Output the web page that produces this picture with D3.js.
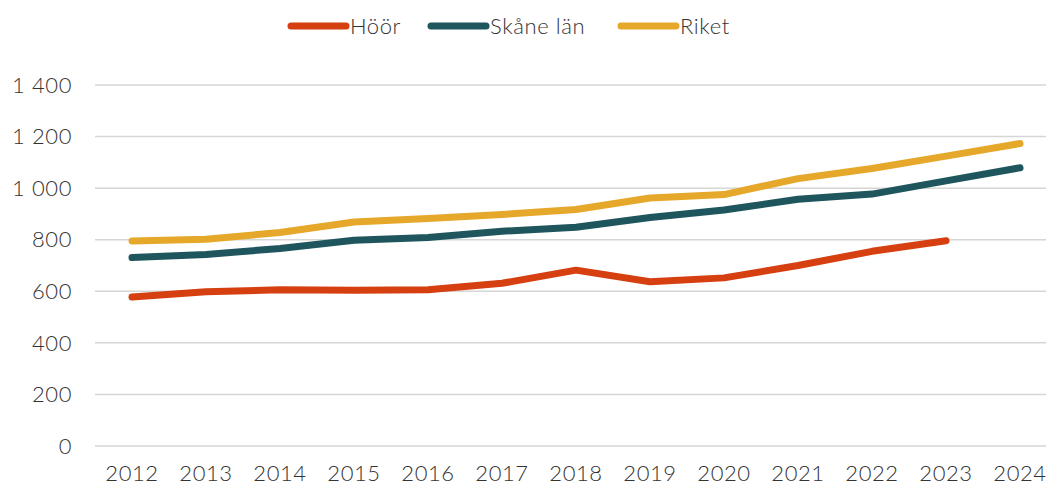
<!DOCTYPE html>
<html>
<head>
<meta charset="utf-8">
<script src="https://cdn.jsdelivr.net/npm/d3@7"></script>
<style>
  body { margin: 0; background: #fff; }
  text { font-family: "Lato", "Open Sans", sans-serif; font-weight: 300; fill: #333; letter-spacing: 0.6px; }
</style>
</head>
<body>
<div id="main"></div>
<script>
const WIDTH = 1046;
const HEIGHT = 486;

// data
const years = [2012, 2013, 2014, 2015, 2016, 2017, 2018, 2019, 2020, 2021, 2022, 2023, 2024];
const hoor = [578, 598, 606, 604, 606, 631, 682, 637, 652, 700, 755, 796, null];
const skane = [731, 743, 766, 798, 809, 833, 848, 886, 915, 957, 977, 1028, 1079];
const riket = [795, 802, 828, 869, 882, 898, 917, 962, 975, 1037, 1076, 1124, 1173];
const yTicks = [0, 200, 400, 600, 800, 1000, 1200, 1400];

const series = [
  { name: 'Höör', values: hoor, color: '#D63F0F' },
  { name: 'Skåne län', values: skane, color: '#1F565E' },
  { name: 'Riket', values: riket, color: '#E5A82A' }
];

const svg = d3.select('#main')
  .append('svg')
  .attr('width', WIDTH)
  .attr('height', HEIGHT);

const x = d3.scalePoint().domain(years).range([132, 1020]);
const y = d3.scaleLinear().domain([0, 1400]).range([446, 85]);

// grid
svg.append('g')
  .selectAll('line')
  .data(yTicks)
  .join('line')
  .attr('x1', 95)
  .attr('x2', WIDTH)
  .attr('y1', d => y(d))
  .attr('y2', d => y(d))
  .attr('stroke', '#d6d6d6')
  .attr('stroke-width', 1.5);

// y labels, space as thousands separator
svg.append('g')
  .selectAll('text')
  .data(yTicks)
  .join('text')
  .attr('x', 72)
  .attr('y', d => y(d))
  .attr('dy', '0.35em')
  .attr('text-anchor', 'end')
  .style('font-size', '22px')
  .text(d => d3.format(',')(d).replace(',', ' '));

// x labels
svg.append('g')
  .selectAll('text')
  .data(years)
  .join('text')
  .attr('x', d => x(d))
  .attr('y', 481)
  .attr('text-anchor', 'middle')
  .style('font-size', '22px')
  .text(d => d);

// lines
const line = d3.line()
  .defined(d => d.v != null)
  .x(d => x(d.year))
  .y(d => y(d.v));

svg.append('g')
  .selectAll('path')
  .data(series.slice().reverse())
  .join('path')
  .attr('d', s => line(years.map((yr, i) => ({ year: yr, v: s.values[i] }))))
  .attr('fill', 'none')
  .attr('stroke', s => s.color)
  .attr('stroke-width', 7)
  .attr('stroke-linecap', 'round')
  .attr('stroke-linejoin', 'round');

// legend
const legendX = [291, 431, 621];
const legend = svg.append('g')
  .selectAll('g')
  .data(series)
  .join('g')
  .attr('transform', (d, i) => `translate(${legendX[i]}, 26)`);

legend.append('line')
  .attr('x1', 0)
  .attr('x2', 55)
  .attr('stroke', d => d.color)
  .attr('stroke-width', 7)
  .attr('stroke-linecap', 'round');

legend.append('text')
  .attr('x', 59)
  .attr('dy', '0.35em')
  .style('font-size', '22px')
  .text(d => d.name);
</script>
</body>
</html>
